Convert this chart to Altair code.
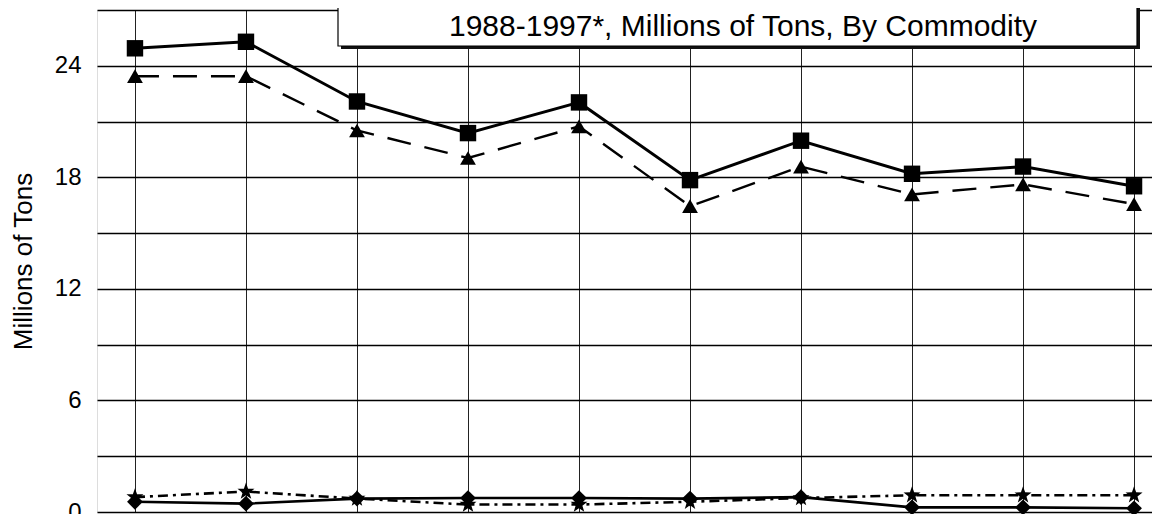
import altair as alt
import pandas as pd

years = [1988, 1989, 1990, 1991, 1992, 1993, 1994, 1995, 1996, 1997]
squares = [24.94, 25.29, 22.08, 20.38, 22.03, 17.85, 19.97, 18.19, 18.58, 17.52]
triangles = [23.44, 23.44, 20.52, 19.04, 20.74, 16.45, 18.58, 17.08, 17.62, 16.56]
diamonds = [0.55, 0.45, 0.72, 0.75, 0.75, 0.72, 0.8, 0.25, 0.25, 0.2]
stars = [0.8, 1.1, 0.72, 0.4, 0.4, 0.55, 0.75, 0.9, 0.9, 0.9]
series_names = ["A", "B", "C", "D"]
title_text = "1988-1997*, Millions of Tons, By Commodity"
y_title = "Millions of Tons"
y_ticks = [0, 3, 6, 9, 12, 15, 18, 21, 24, 27]

rows = []
for name, vals in zip(series_names, [squares, triangles, diamonds, stars]):
    for yr, v in zip(years, vals):
        rows.append({"year": yr, "value": v, "series": name})
df = pd.DataFrame(rows)

FONT = "Liberation Sans"
STAR = ("M0,-1L0.235,-0.324L0.951,-0.309L0.380,0.124L0.588,0.809L0,0.4"
        "L-0.588,0.809L-0.380,0.124L-0.951,-0.309L-0.235,-0.324Z")

W = 1087
H = 502

x_enc = alt.X("year:Q", scale=alt.Scale(domain=[1987.658, 1997.45], nice=False, zero=False),
              axis=alt.Axis(values=years, grid=True, labels=False, ticks=False, domain=False,
                            title=None, gridColor="#222", gridWidth=1))
y_enc = alt.Y("value:Q", scale=alt.Scale(domain=[0, 27], nice=False),
              axis=alt.Axis(values=y_ticks, labelExpr="datum.value % 6 == 0 ? datum.label : ''",
                            ticks=False, domain=False, labelPadding=16, labelFontSize=24,
                            labelFont=FONT, labelColor="black", gridColor="black", gridWidth=1.3,
                            title=y_title, titleFont=FONT, titleFontSize=26, titleFontWeight="normal",
                            titleColor="black", titleAngle=-90, titleX=-74, titleY=251,
                            titleAlign="center", titleBaseline="middle"))

base = alt.Chart(df).encode(x=x_enc, y=y_enc)

def line(name, dash, width):
    kw = dict(color="black", strokeWidth=width)
    if dash:
        kw["strokeDash"] = dash
    return base.transform_filter(alt.datum.series == name).mark_line(**kw)

def pts(name, shape, size):
    return base.transform_filter(alt.datum.series == name).mark_point(
        shape=shape, size=size, filled=True, color="black", opacity=1)

box_data = pd.DataFrame({"t": [title_text]})
shadow = alt.Chart(box_data).mark_rect(fill="#111").encode(
    x=alt.value(244), x2=alt.value(1043), y=alt.value(-17), y2=alt.value(39))
box = alt.Chart(box_data).mark_rect(fill="white", stroke="black", strokeWidth=1.2).encode(
    x=alt.value(241), x2=alt.value(1040), y=alt.value(-20), y2=alt.value(36))
txt = alt.Chart(box_data).mark_text(font=FONT, fontSize=30, color="black", align="center",
                                     baseline="alphabetic").encode(
    text="t:N", x=alt.value(646), y=alt.value(26))

chart = alt.layer(
    line("D", [10, 5, 3, 5], 2.6),
    line("C", None, 2.6),
    line("B", [24, 14], 2.4),
    line("A", None, 3),
    pts("D", STAR, 320),
    pts("C", "diamond", 250),
    pts("B", "triangle-up", 250),
    pts("A", "square", 270),
    shadow, box, txt,
).properties(
    width=W, height=H,
    autosize=alt.AutoSizeParams(type="none"),
    padding={"left": 89, "top": 2, "right": -32, "bottom": 10},
).configure_view(stroke="black", strokeWidth=1.5).configure(background="white")

chart.save("out.html", embed_options={"renderer": "svg", "actions": False})
